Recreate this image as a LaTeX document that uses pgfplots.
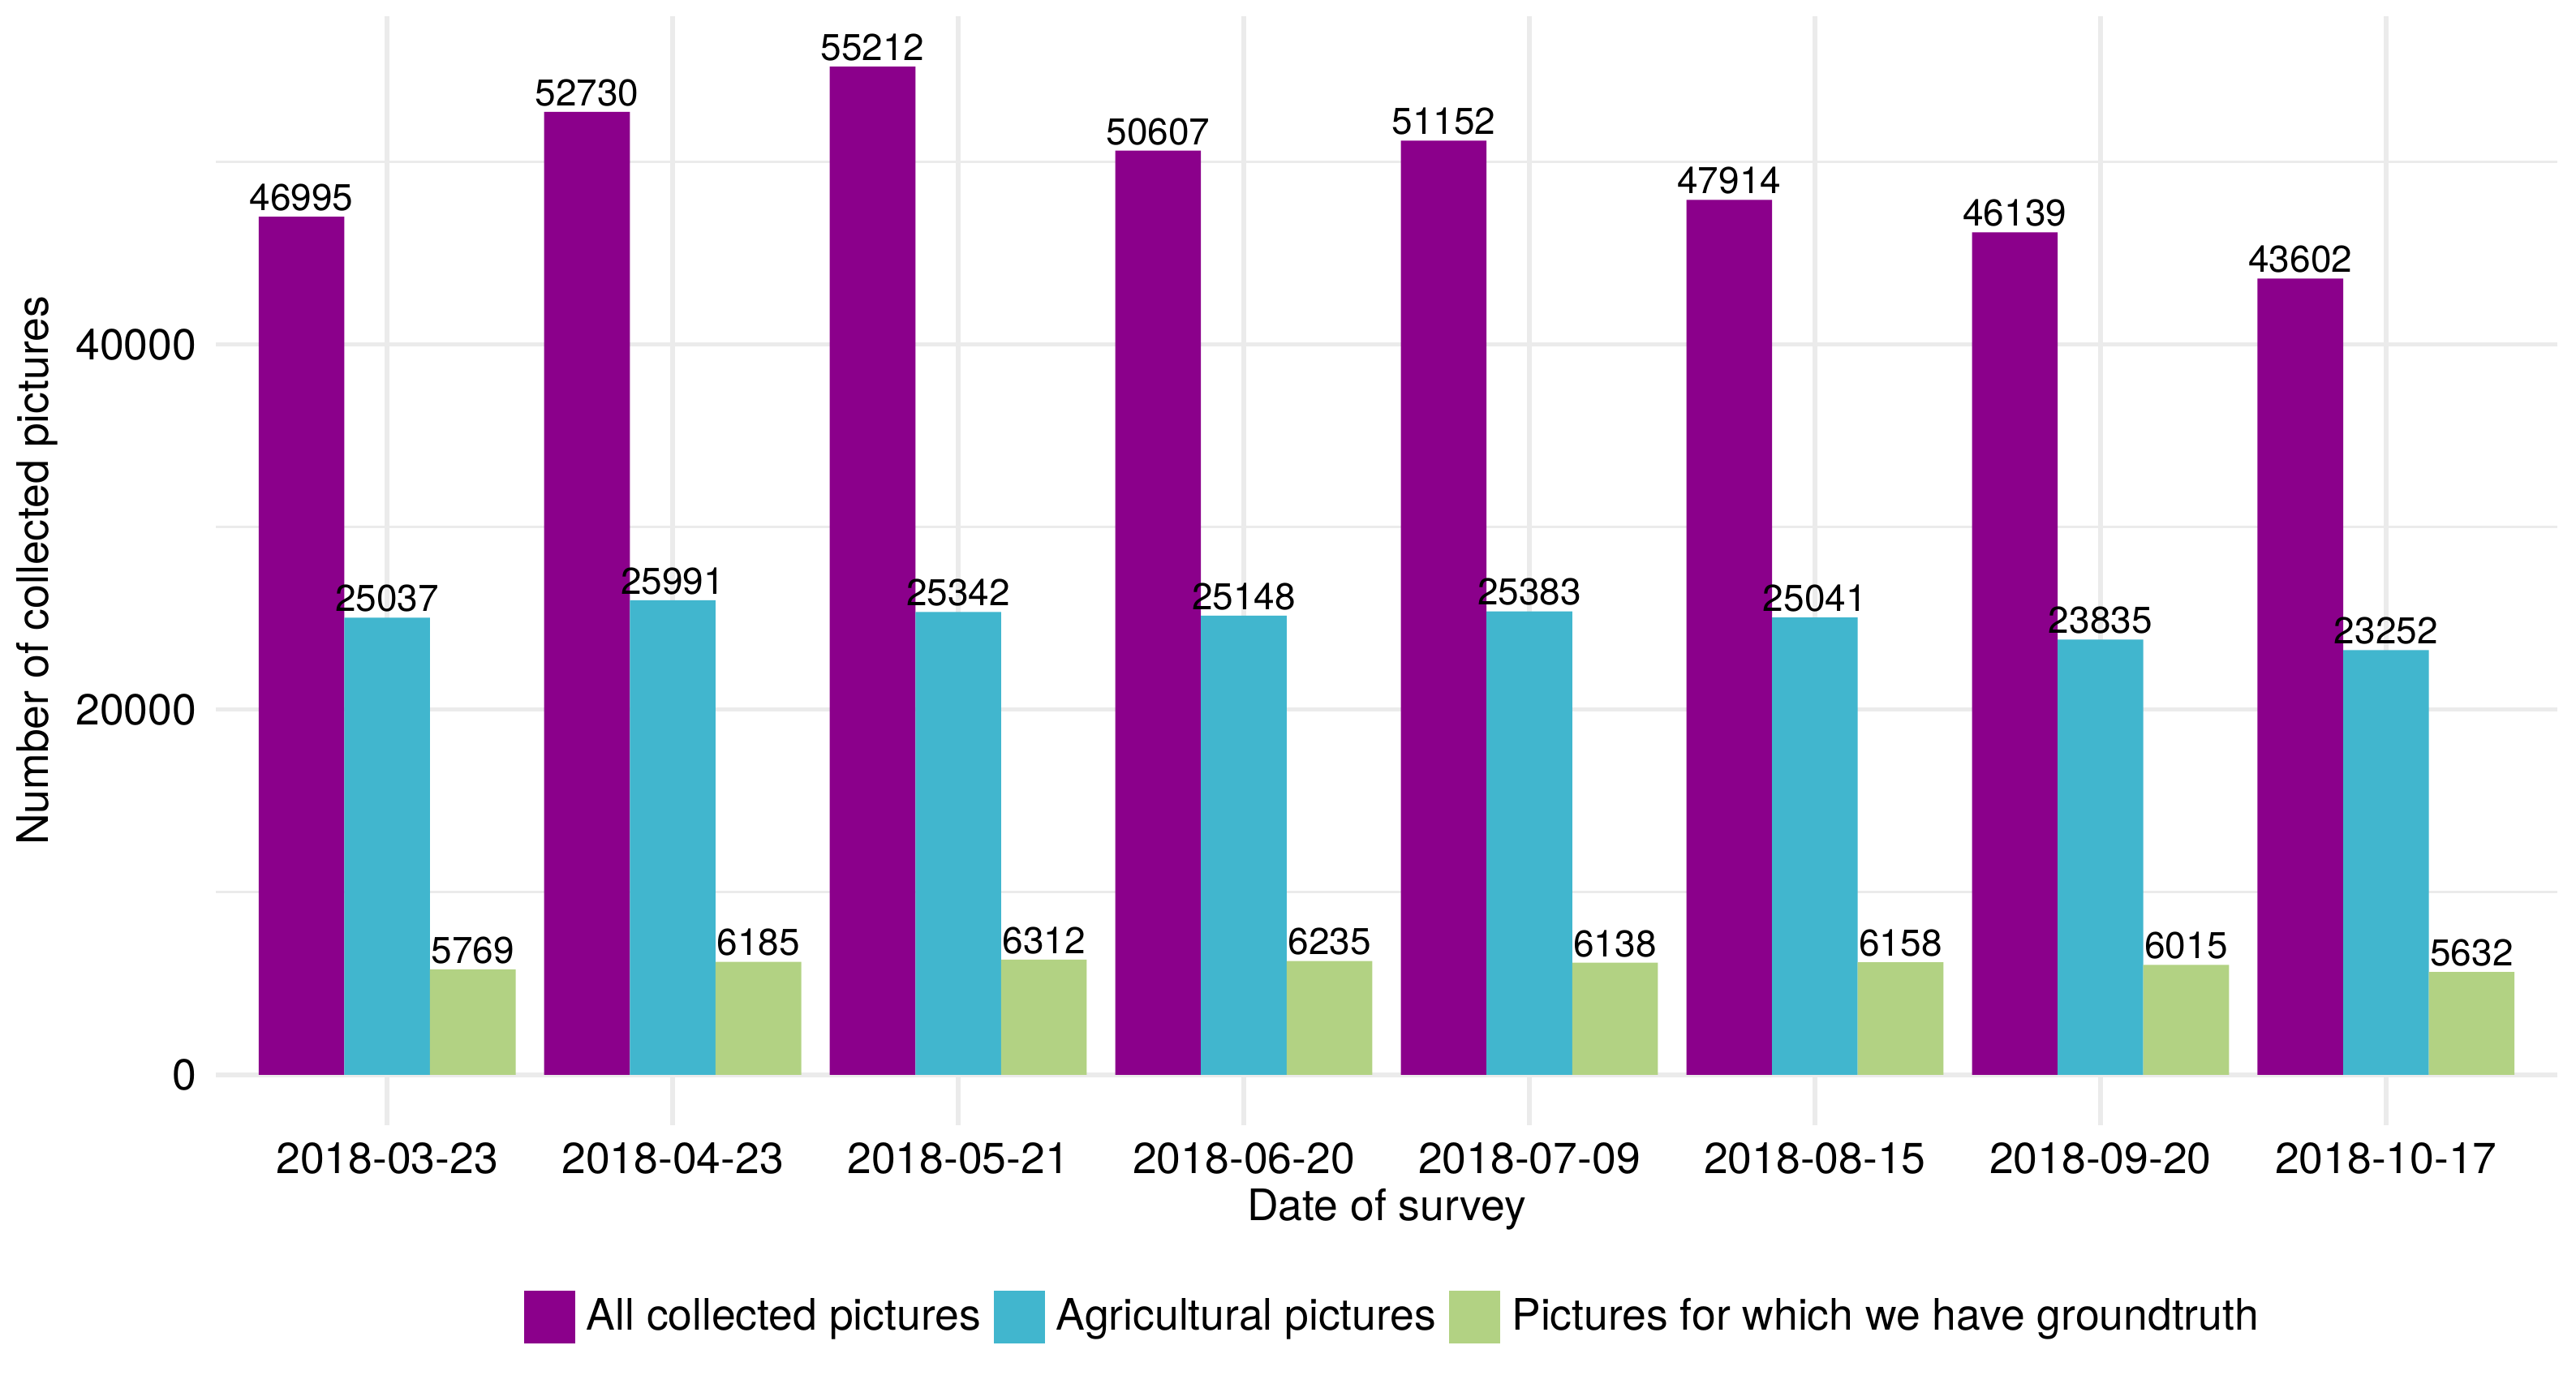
\documentclass[border=0pt]{standalone}
\usepackage{fontspec}
\setmainfont{TeX Gyre Heros}
\usepackage{pgfplots}
\usepackage{pgfplotstable}
\pgfplotsset{compat=1.18}

\definecolor{allc}{HTML}{8B008B}
\definecolor{agri}{HTML}{41B6CE}
\definecolor{gtru}{HTML}{B2D283}
\definecolor{gridc}{HTML}{EBEBEB}

% survey data
\pgfplotstableread{
x all agri gt
1 46995 25037 5769
2 52730 25991 6185
3 55212 25342 6312
4 50607 25148 6235
5 51152 25383 6138
6 47914 25041 6158
7 46139 23835 6015
8 43602 23252 5632
}\surveydata

\pgfplotsset{
  legsq/.style={legend image code/.code={
    \fill[##1] (0pt,-6.5pt) rectangle (12.6pt,6.5pt);}},
}

\begin{document}
\begin{tikzpicture}
\begin{axis}[
    scale only axis,
    width=577.2pt, height=273.4pt,
    ybar, bar width=0.3,
    xmin=0.4, xmax=8.6,
    ymin=-2760.6, ymax=57972.6,
    axis line style={draw=none},
    tick style={draw=none},
    xtick={1,...,8},
    xticklabels={2018-03-23,2018-04-23,2018-05-21,2018-06-20,2018-07-09,2018-08-15,2018-09-20,2018-10-17},
    ytick={0,20000,40000},
    minor ytick={10000,30000,50000},
    scaled y ticks=false,
    /pgf/number format/fixed,
    /pgf/number format/precision=0,
    /pgf/number format/1000 sep={},
    /pgf/number format/assume math mode=true,
    ymajorgrids, yminorgrids, xmajorgrids,
    major grid style={gridc, line width=1.1pt},
    minor grid style={gridc, line width=0.55pt},
    ticklabel style={font=\fontsize{10.7}{12}\selectfont, inner sep=0pt},
    xticklabel style={anchor=base, yshift=-7.6pt},
    yticklabel style={anchor=east, xshift=-4.6pt},
    xlabel={Date of survey},
    ylabel={Number of collected pictures},
    label style={font=\fontsize{10.7}{12}\selectfont},
    xlabel style={at={(axis description cs:0.5,-0.0761)}, anchor=center},
    ylabel style={at={(axis description cs:-0.0762,0.5)}, anchor=center},
    nodes near coords,
    nodes near coords style={font=\fontsize{9.2}{10}\selectfont, anchor=south, inner sep=1.2pt},
    clip=false,
    legend columns=3,
    legend style={draw=none, fill=none, at={(0.502,-0.173)}, anchor=center,
      font=\fontsize{10.7}{12}\selectfont,
      nodes={inner sep=0pt, anchor=west},
      /tikz/every odd column/.append style={column sep=2.8pt},
      /tikz/every even column/.append style={column sep=3.2pt}},
]
\addplot[fill=allc, draw=none, bar shift=-0.3, legsq] table[x=x, y=all] {\surveydata};
\addplot[fill=agri, draw=none, bar shift=0, legsq] table[x=x, y=agri] {\surveydata};
\addplot[fill=gtru, draw=none, bar shift=0.3, legsq] table[x=x, y=gt] {\surveydata};
\legend{All collected pictures, Agricultural pictures, Pictures for which we have groundtruth}
\end{axis}
\pgfresetboundingbox
\path ([xshift=-53.2pt,yshift=-63.8pt]current axis.south west) rectangle ([xshift=4.6pt,yshift=4pt]current axis.north east);
\end{tikzpicture}
\end{document}
